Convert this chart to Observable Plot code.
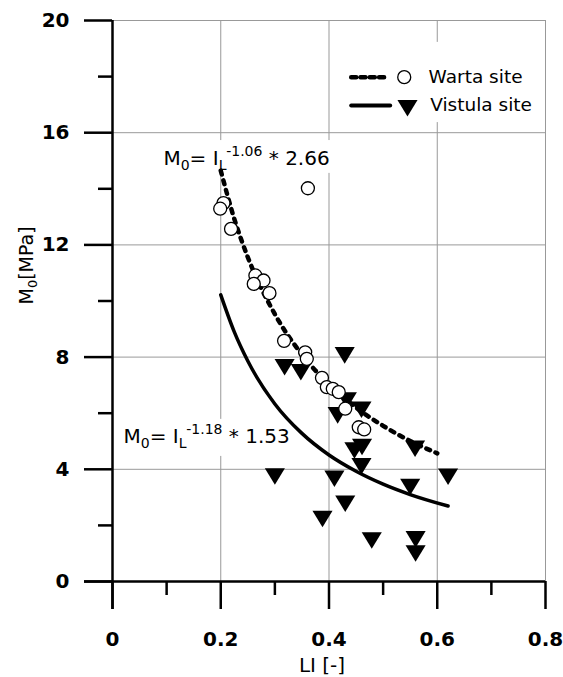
<!DOCTYPE html>
<html><head><meta charset="utf-8">
<script src="https://cdn.jsdelivr.net/npm/d3@7"></script>
<script src="https://cdn.jsdelivr.net/npm/@observablehq/plot@0.6"></script>
<style>
body{margin:0;background:#fff;}
svg{display:block;}
g[aria-label="x-axis tick label"], g[aria-label="y-axis tick label"]{font-weight:bold;}
</style>
</head><body><div id="chart"></div>
<script>
// Warta site (circles)
const wartaLI = [0.205, 0.199, 0.219, 0.264, 0.279, 0.261, 0.290, 0.317, 0.356, 0.359, 0.361, 0.387, 0.396, 0.407, 0.418, 0.430, 0.455, 0.465];
const wartaM0 = [13.49, 13.29, 12.57, 10.91, 10.73, 10.61, 10.28, 8.58, 8.17, 7.94, 14.02, 7.26, 6.93, 6.87, 6.75, 6.16, 5.50, 5.42];
// Vistula site (triangles)
const vistulaLI = [0.429, 0.318, 0.348, 0.433, 0.416, 0.460, 0.447, 0.461, 0.460, 0.559, 0.300, 0.410, 0.620, 0.550, 0.430, 0.388, 0.479, 0.560, 0.560];
const vistulaM0 = [8.16, 7.74, 7.56, 6.55, 6.02, 6.22, 4.77, 4.89, 4.21, 4.83, 3.84, 3.76, 3.83, 3.47, 2.87, 2.33, 1.56, 1.60, 1.10];
// Fitted curves
const wartaFitLI = [0.2, 0.225, 0.25, 0.3, 0.35, 0.4, 0.45, 0.5, 0.55, 0.6];
const wartaFitM0 = [14.65, 12.93, 11.56, 9.53, 8.09, 7.03, 6.20, 5.55, 5.01, 4.57];
const vistulaFitLI = [0.2, 0.225, 0.25, 0.3, 0.35, 0.4, 0.45, 0.5, 0.55, 0.62];
const vistulaFitM0 = [10.22, 8.90, 7.86, 6.33, 5.28, 4.51, 3.93, 3.47, 3.10, 2.69];
// Axis ticks
const xMajor = [0, 0.2, 0.4, 0.6, 0.8];
const xMinor = [0.1, 0.3, 0.5, 0.7];
const yMajor = [0, 4, 8, 12, 16, 20];
const yMinor = [2, 6, 10, 14, 18];
// Texts
const seriesNames = ["Warta site", "Vistula site"];
const eqWarta = "M0= IL-1.06 * 2.66";
const eqVistula = "M0= IL-1.18 * 1.53";
const xLabel = "LI [-]";
const yLabel = "M0[MPa]";

const warta = wartaLI.map((x, i) => ({x, y: wartaM0[i]}));
const vistula = vistulaLI.map((x, i) => ({x, y: vistulaM0[i]}));
const wartaFit = wartaFitLI.map((x, i) => ({x, y: wartaFitM0[i]}));
const vistulaFit = vistulaFitLI.map((x, i) => ({x, y: vistulaFitM0[i]}));

// downward-pointing triangle symbol (centroid at the point)
const triDown = {
  draw(ctx, size) {
    const r = Math.sqrt(size / Math.PI);
    const hw = 1.5 * r, h = 2.47 * r;
    ctx.moveTo(-hw, -h / 3);
    ctx.lineTo(hw, -h / 3);
    ctx.lineTo(0, 2 * h / 3);
    ctx.closePath();
  }
};

const grid = {stroke: "#999", strokeOpacity: 1, strokeWidth: 1};

const plot = Plot.plot({
  width: 563, height: 677,
  marginLeft: 112, marginRight: 18, marginTop: 20, marginBottom: 96,
  x: {domain: [0, 0.8]},
  y: {domain: [0, 20]},
  style: {fontFamily: "'DejaVu Sans', sans-serif", fontSize: "20px", background: "white", color: "black", overflow: "visible"},
  marks: [
    Plot.gridX(xMajor.slice(1), grid),
    Plot.gridY(yMajor.slice(1), grid),
    // white backgrounds of the legend and equations
    Plot.rect([0], {x1: 0.430, x2: 0.790, y1: 16.36, y2: 19.22, fill: "white"}),
    Plot.rect([0], {x1: 0.085, x2: 0.406, y1: 14.55, y2: 15.72, fill: "white"}),
    Plot.rect([0], {x1: 0.009, x2: 0.342, y1: 4.46, y2: 5.78, fill: "white"}),
    // fitted curves
    Plot.line(wartaFit, {x: "x", y: "y", curve: "monotone-x", stroke: "black", strokeWidth: 4.5, strokeDasharray: "4,6"}),
    Plot.line(vistulaFit, {x: "x", y: "y", curve: "monotone-x", stroke: "black", strokeWidth: 3.5}),
    // data
    Plot.dot(vistula, {x: "x", y: "y", symbol: triDown, r: 6.7, fill: "black", stroke: "none"}),
    Plot.dot(warta, {x: "x", y: "y", r: 6.5, fill: "white", stroke: "black", strokeWidth: 1.3}),
    // axis lines (extend beyond origin by tick length)
    Plot.ruleX([0], {y1: -1.0, y2: 20, stroke: "black", strokeWidth: 2.5}),
    Plot.ruleY([0], {x1: -0.0517, x2: 0.8, stroke: "black", strokeWidth: 2.5}),
    Plot.axisY({ticks: yMajor, tickSize: 28, tickPadding: 15, tickFormat: d => String(d), fontSize: 20, fontWeight: "bold", strokeWidth: 2.5, label: null}),
    Plot.axisY({ticks: yMinor, tickSize: 14, tickFormat: () => "", strokeWidth: 2.5, label: null}),
    Plot.axisX({ticks: xMajor, tickSize: 28, tickPadding: 22, tickFormat: d => String(d), fontSize: 20, fontWeight: "bold", strokeWidth: 2.5, label: null}),
    Plot.axisX({ticks: xMinor, tickSize: 14, tickFormat: () => "", strokeWidth: 2.5, label: null}),
    // axis titles
    Plot.text([xLabel], {frameAnchor: "bottom", text: d => d, dx: -7, dy: 90, lineAnchor: "bottom", fontSize: 20}),
    Plot.text([yLabel], {frameAnchor: "left", text: d => d, dx: -80, dy: 3.5, rotate: -90, lineAnchor: "bottom", fontSize: 19}),
    // equations
    Plot.text([eqWarta], {x: () => 0.0941, y: () => 14.86, text: d => d, textAnchor: "start", lineAnchor: "bottom", fontSize: 20}),
    Plot.text([eqVistula], {x: () => 0.0203, y: () => 4.945, text: d => d, textAnchor: "start", lineAnchor: "bottom", fontSize: 20}),
    // legend
    Plot.line([{x: 0.441, y: 17.98}, {x: 0.506, y: 17.98}], {x: "x", y: "y", stroke: "black", strokeWidth: 4.5, strokeDasharray: "5,4.3"}),
    Plot.line([{x: 0.441, y: 16.97}, {x: 0.513, y: 16.97}], {x: "x", y: "y", stroke: "black", strokeWidth: 4}),
    Plot.dot([{x: 0.539, y: 17.98}], {x: "x", y: "y", r: 6.5, fill: "white", stroke: "black", strokeWidth: 1.3}),
    Plot.dot([{x: 0.545, y: 16.97}], {x: "x", y: "y", symbol: triDown, r: 6.7, fill: "black", stroke: "none"}),
    Plot.text([seriesNames[0]], {x: () => 0.584, y: () => 17.76, text: d => d, textAnchor: "start", lineAnchor: "bottom", fontSize: 18.5}),
    Plot.text([seriesNames[1]], {x: () => 0.587, y: () => 16.77, text: d => d, textAnchor: "start", lineAnchor: "bottom", fontSize: 18.5})
  ]
});

function rich(content, parts) {
  d3.select(plot).selectAll("text").filter(function() { return this.textContent === content; }).each(function() {
    const t = d3.select(this);
    t.text(null);
    for (const p of parts) {
      const s = t.append("tspan").text(p.t);
      if (p.dy) s.attr("dy", p.dy);
      if (p.dx) s.attr("dx", p.dx);
      if (p.fs) s.attr("font-size", p.fs);
    }
  });
}
function eqParts(s) {
  // s like "M0= IL-1.06 * 2.66"
  const exp = s.slice(s.indexOf("L") + 1, s.indexOf(" *"));
  const rest = s.slice(s.indexOf(" *"));
  return [{t: "M"}, {t: "0", dy: 5, fs: 14}, {t: "= I", dy: -5}, {t: "L", dy: 5, fs: 14}, {t: exp, dy: -14, fs: 14}, {t: rest, dy: 9}];
}
rich(eqWarta, eqParts(eqWarta));
rich(eqVistula, eqParts(eqVistula));
rich(yLabel, [{t: "M"}, {t: "0", dy: 4, fs: 13}, {t: "[MPa]", dy: -4}]);

document.getElementById("chart").appendChild(plot);
</script>
</body></html>
